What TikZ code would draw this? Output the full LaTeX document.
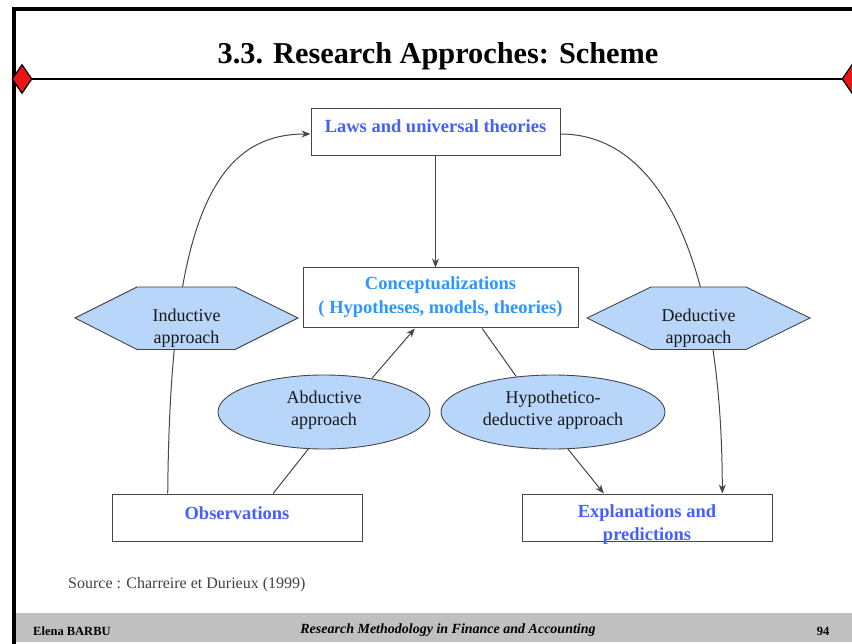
\documentclass[tikz,border=0pt]{standalone}
\usepackage{fontspec}
\setmainfont{Liberation Serif}
\usetikzlibrary{shapes.geometric,calc,arrows.meta}
\definecolor{blueA}{RGB}{70,95,255}
\definecolor{blueB}{RGB}{45,150,255}
\definecolor{fillB}{RGB}{184,213,250}
\definecolor{edgeG}{RGB}{70,70,70}
\definecolor{footG}{RGB}{192,192,192}
\definecolor{redD}{RGB}{235,20,20}
\tikzset{
  boxnode/.style={draw=edgeG, line width=1pt, fill=white, rectangle, inner sep=0pt},
  btext/.style={font=\bfseries\fontsize{18.5}{22}\selectfont, text=blueA, align=center, inner sep=0pt},
  ctext/.style={font=\bfseries\fontsize{18.5}{22}\selectfont, text=blueB, align=center, inner sep=0pt},
  htext/.style={font=\fontsize{18}{22}\selectfont, text=black!90, align=center, inner sep=0pt},
  ellnode/.style={ellipse, draw=edgeG, line width=0.9pt, fill=fillB, inner sep=0pt},
  hexfill/.style={draw=edgeG, line width=0.9pt, fill=fillB},
  conn/.style={draw=edgeG, line width=1pt},
  arr/.style={conn, -{Stealth[length=9pt,width=7pt]}},
}
\begin{document}
\begin{tikzpicture}[x=1pt,y=-1pt]
\useasboundingbox (0,0) rectangle (852,644);
% frame
\draw[line width=4pt] (13.5,644) -- (13.5,9.5) -- (852,9.5);
% footer
\fill[footG] (15.5,613) rectangle (852,642);
\node[font=\bfseries\fontsize{12.5}{14}\selectfont, anchor=west, inner sep=0pt] (fa) at (33,631) {Elena BARBU};
\node[font=\bfseries\itshape\fontsize{14}{16}\selectfont, inner sep=0pt] (fb) at (448,630) {Research Methodology in Finance and Accounting};
\node[font=\bfseries\fontsize{12.5}{14}\selectfont, inner sep=0pt] (fc) at (823,631) {94};
% title
\node[font=\bfseries\fontsize{30.3}{34}\selectfont, inner sep=0pt] (title) at (438,56) {3.3. Research Approches: Scheme};
\draw[line width=2pt] (13.5,79) -- (852,79);
\node[diamond, fill=redD, draw=black, line width=1.2pt, minimum width=20pt, minimum height=29pt, inner sep=0pt] (dl) at (22,79) {};
\node[diamond, fill=redD, draw=black, line width=1.2pt, minimum width=20pt, minimum height=29pt, inner sep=0pt] (dr) at (852,79) {};
% boxes
\node[boxnode, minimum width=249pt, minimum height=47pt] (laws) at (435.5,132) {};
\node[btext] (lawst) at (435.5,126) {Laws and universal theories};
\node[boxnode, minimum width=275pt, minimum height=60pt] (con) at (440.5,298) {};
\node[ctext] (cont1) at (440.5,285) {Conceptualizations};
\node[ctext] (cont2) at (440.5,309) {( Hypotheses, models, theories)};
\node[boxnode, minimum width=250pt, minimum height=47pt] (obs) at (237,517.5) {};
\node[btext] (obst) at (237,513) {Observations};
\node[boxnode, minimum width=250pt, minimum height=47pt] (expl) at (647,517.5) {};
\node[btext] (explt1) at (647,513) {Explanations and};
\node[btext] (explt2) at (647,536) {predictions};
% big curves
\coordinate (o1) at ($(obs.north west)!0.224!(obs.north east)$);
\coordinate (o2) at ($(obs.north west)!0.644!(obs.north east)$);
\coordinate (e1) at ($(expl.north west)!0.328!(expl.north east)$);
\coordinate (e2) at ($(expl.north west)!0.8!(expl.north east)$);
\coordinate (c1) at ($(con.south west)!0.407!(con.south east)$);
\coordinate (c2) at ($(con.south west)!0.651!(con.south east)$);
\draw[arr] (o1) .. controls (170,230) and (210,134) .. ([yshift=-2pt]laws.west);
\draw[arr] ([yshift=-2pt]laws.east) .. controls (660,134) and (722,260) .. (e2);
\draw[arr] (laws.south) -- (laws.south |- con.north);
% hexagons
\path[hexfill] (75,318) -- (137,287) -- (235,287) -- (298,318) -- (235,349.5) -- (137,349.5) -- cycle;
\node[htext] (ind) at (186.5,328) {Inductive\\approach};
\path[hexfill] (587,318) -- (651,287) -- (746,287) -- (810,318) -- (746,349.5) -- (651,349.5) -- cycle;
\node[htext] (ded) at (698.5,328) {Deductive\\approach};
% ellipses
\node[ellnode, minimum width=212pt, minimum height=74pt] (abd) at (324,412) {};
\node[htext] (abdt) at (324,410) {Abductive\\approach};
\node[ellnode, minimum width=224pt, minimum height=74pt] (hyp) at (553,412) {};
\node[htext] (hypt) at (553,410) {Hypothetico-\\deductive approach};
% connectors
\draw[conn] (o2) -- (abd.247);
\draw[arr] (abd.35) -- (c1);
\draw[conn] (c2) -- (hyp.136);
\draw[arr] (hyp.292) -- (e1);
% source
\node[font=\fontsize{16}{18}\selectfont, text=black!75, anchor=west, inner sep=0pt] (src) at (68,585) {Source : Charreire et Durieux (1999)};
\end{tikzpicture}
\end{document}
